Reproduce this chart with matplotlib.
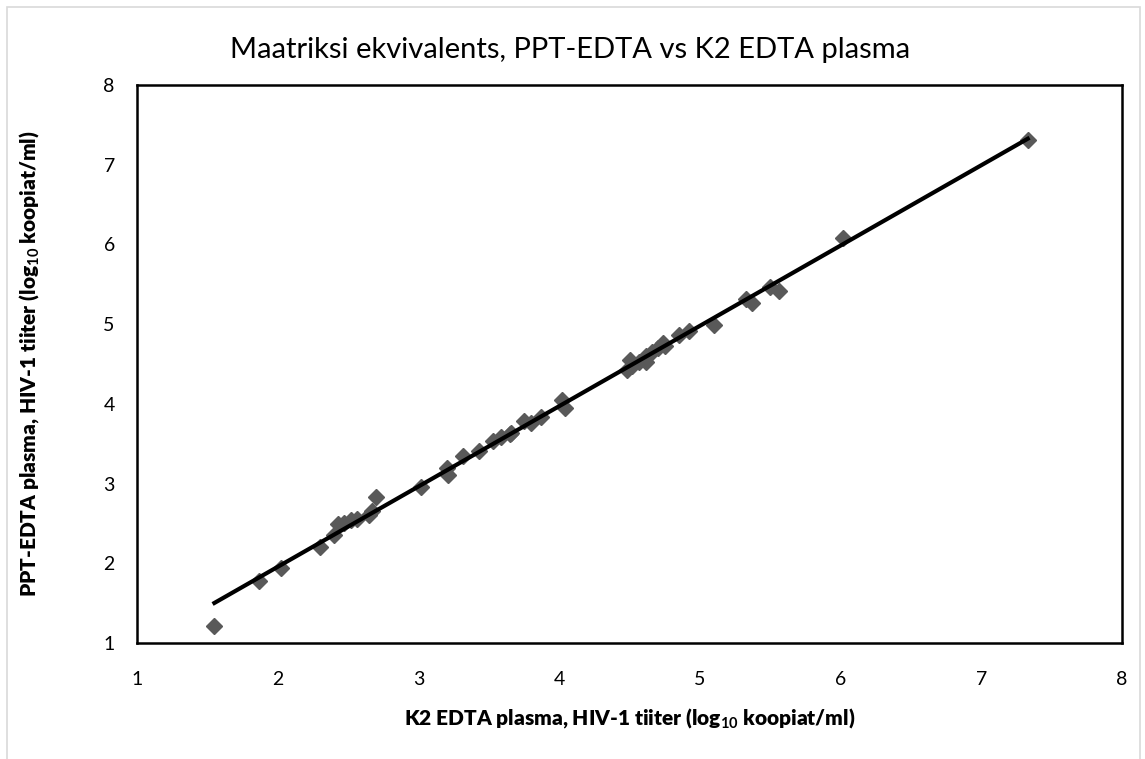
import numpy as np
import matplotlib
matplotlib.use('Agg')
import matplotlib.pyplot as plt
from matplotlib.patches import Rectangle

plt.rcParams['font.family'] = ['Lato', 'DejaVu Sans']
plt.rcParams['mathtext.fontset'] = 'custom'
plt.rcParams['mathtext.rm'] = 'Lato'
plt.rcParams['mathtext.bf'] = 'Lato:bold'

# K2 EDTA plasma (x) vs PPT-EDTA plasma (y), log10 kopiat/ml
k2_edta = [1.55, 1.87, 2.02, 2.30, 2.40, 2.43, 2.47, 2.52, 2.56, 2.65, 2.67, 2.70,
           3.02, 3.20, 3.21, 3.32, 3.43, 3.53, 3.59, 3.65, 3.66, 3.75, 3.80, 3.87,
           4.02, 4.04, 4.48, 4.50, 4.52, 4.57, 4.62, 4.62, 4.66, 4.70, 4.75, 4.74,
           4.85, 4.92, 5.10, 5.33, 5.37, 5.50, 5.56, 6.02, 7.33]
ppt_edta = [1.21, 1.78, 1.94, 2.20, 2.36, 2.49, 2.51, 2.54, 2.56, 2.60, 2.65, 2.83,
            2.96, 3.19, 3.11, 3.35, 3.41, 3.53, 3.58, 3.62, 3.64, 3.79, 3.76, 3.84,
            4.05, 3.95, 4.43, 4.55, 4.48, 4.52, 4.53, 4.60, 4.65, 4.70, 4.72, 4.76,
            4.87, 4.92, 4.99, 5.31, 5.26, 5.46, 5.42, 6.08, 7.31]

x = np.array(k2_edta)
y = np.array(ppt_edta)
slope, intercept = np.polyfit(x, y, 1)
xl = np.array([x.min(), x.max()])

fig = plt.figure(figsize=(11.45, 7.59), dpi=100)
fig.patches.append(Rectangle((7/1145, -0.01), 1133/1145, 1 - 7/759 + 0.01,
                             transform=fig.transFigure, fill=False,
                             edgecolor='#d9d9d9', linewidth=1.2))
ax = fig.add_axes([137/1145, 1 - 643/759, 985/1145, 558/759])

ax.plot(x, y, linestyle='none', marker='D', markersize=8, color='#595959', zorder=2)
ax.plot(xl, slope * xl + intercept, color='black', linewidth=3, zorder=3)

ax.set_xlim(1, 8)
ax.set_ylim(1, 8)
ax.set_xticks(range(1, 9))
ax.set_yticks(range(1, 9))
ax.tick_params(axis='both', length=0, labelsize=14, colors='black')
ax.tick_params(axis='x', pad=20)
ax.tick_params(axis='y', pad=16)
for s in ax.spines.values():
    s.set_linewidth(1.8)
    s.set_color('black')

fig.text(570/1145, 1 - 50/759, 'Maatriksi ekvivalents, PPT-EDTA vs K2 EDTA plasma',
         fontsize=21, ha='center', va='center')
ax.set_xlabel(r'K2 EDTA plasma, HIV-1 tiiter (log$_{\mathbf{10}}$ koopiat/ml)',
              fontsize=15, fontweight='heavy', labelpad=14)
ax.set_ylabel(r'PPT-EDTA plasma, HIV-1 tiiter (log$_{\mathbf{10}}$ koopiat/ml)',
              fontsize=15, fontweight='heavy', labelpad=44)

fig.savefig('out.png', dpi=100)
